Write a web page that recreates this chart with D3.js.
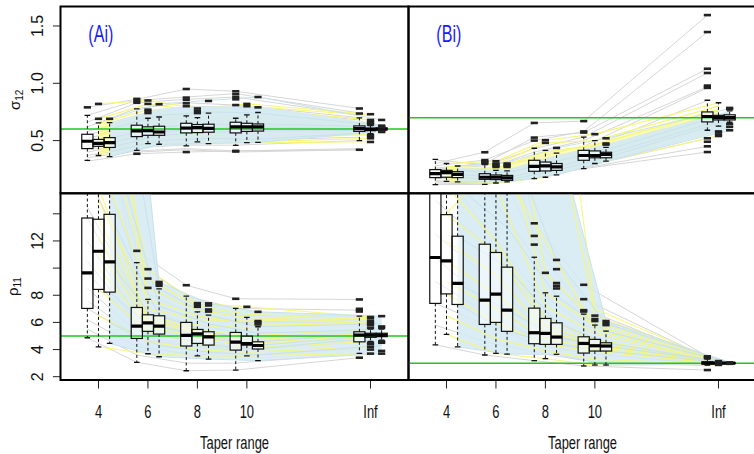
<!DOCTYPE html>
<html><head><meta charset="utf-8">
<script src="https://cdn.jsdelivr.net/npm/d3@7"></script>
<style>body{margin:0;background:#fff}svg{display:block}text{font-family:"Liberation Sans",Arial,Helvetica,sans-serif}</style>
</head><body><svg id="c" width="754" height="454"></svg>
<script>
// ---------- data ----------
const tapers = ["4","6","8","10","Inf"];
const tapPos = [1,2,3,4,6.5];
const methodOffset = [-0.225, 0, 0.225];

// box stats [lo whisker, q1, median, q3, hi whisker] per taper group, per method
const sigmaA_box = [
 [[0.328,0.43,0.494,0.555,0.72],[0.37,0.45,0.476,0.51,0.654],[0.36,0.44,0.482,0.526,0.657]],
 [[0.415,0.535,0.584,0.634,0.776],[0.474,0.546,0.587,0.62,0.695],[0.468,0.546,0.575,0.625,0.706]],
 [[0.453,0.567,0.61,0.651,0.715],[0.488,0.57,0.614,0.64,0.70],[0.474,0.573,0.607,0.643,0.74]],
 [[0.459,0.567,0.62,0.66,0.695],[0.482,0.58,0.62,0.651,0.724],[0.485,0.583,0.62,0.645,0.745]],
 [[0.50,0.58,0.605,0.628,0.698],[0.56,0.59,0.596,0.61,0.63],[0.585,0.595,0.60,0.61,0.62]]
];
const sigmaA_out = [
 [[0.79],[0.69,0.82],[0.69]],
 [[0.385,0.83,0.846,0.864],[0.74,0.756,0.77,0.82,0.85],[0.817]],
 [[0.40,0.80,0.825,0.855,0.875,0.95],[0.74,0.76,0.78],[0.846]],
 [[0.405,0.41,0.81,0.86,0.88,0.905,0.93],[0.80,0.82],[0.79,0.88]],
 [[0.42,0.736,0.78],[0.488,0.52,0.53,0.545,0.55,0.64,0.65,0.66,0.67,0.68,0.73],[0.575,0.58,0.585,0.615,0.62,0.625,0.63,0.68]]
];
const sigmaA_grey = [
 [0.79,0.86,0.95,0.93,0.78],[0.72,0.85,0.88,0.91,0.74],[0.66,0.83,0.86,0.88,0.72],
 [0.62,0.78,0.83,0.81,0.70],[0.58,0.70,0.80,0.79,0.68],[0.55,0.66,0.72,0.70,0.65],
 [0.52,0.62,0.66,0.66,0.63],[0.49,0.58,0.61,0.62,0.61],[0.46,0.55,0.58,0.59,0.59],
 [0.43,0.53,0.56,0.57,0.57],[0.40,0.48,0.50,0.50,0.53],[0.37,0.44,0.46,0.46,0.50],
 [0.35,0.41,0.43,0.41,0.43],[0.32,0.385,0.40,0.41,0.42],[0.44,0.40,0.42,0.40,0.42]
];
const sigmaA_yellow = [
 [0.82,0.85,0.78,0.82,0.73],[0.69,0.82,0.76,0.80,0.72],[0.65,0.77,0.74,0.78,0.68],
 [0.60,0.74,0.72,0.72,0.66],[0.55,0.70,0.68,0.70,0.64],[0.51,0.62,0.64,0.65,0.61],
 [0.48,0.59,0.61,0.62,0.60],[0.45,0.55,0.57,0.58,0.58],[0.42,0.52,0.54,0.53,0.55],
 [0.40,0.49,0.50,0.49,0.52],[0.37,0.47,0.49,0.48,0.49]
];
const sigmaA_yBandLo = [0.38,0.47,0.49,0.49,0.55];
const sigmaA_yBandHi = [0.65,0.74,0.72,0.72,0.62];
const sigmaA_blue = [
 [0.69,0.82,0.85,0.88,0.68],[0.60,0.72,0.75,0.74,0.63],[0.52,0.62,0.64,0.645,0.62],
 [0.48,0.575,0.607,0.62,0.60],[0.44,0.545,0.573,0.583,0.59],[0.40,0.50,0.52,0.51,0.58],
 [0.36,0.468,0.474,0.485,0.58]
];
const sigmaA_bandLo = [0.36,0.45,0.47,0.48,0.58];
const sigmaA_bandHi = [0.66,0.78,0.80,0.80,0.64];

const sigmaB_box = [
 [[0.115,0.177,0.211,0.247,0.336],[0.144,0.18,0.22,0.24,0.30],[0.14,0.177,0.205,0.229,0.278]],
 [[0.118,0.162,0.18,0.211,0.29],[0.13,0.16,0.18,0.20,0.24],[0.14,0.153,0.175,0.196,0.235]],
 [[0.168,0.232,0.275,0.328,0.433],[0.18,0.235,0.28,0.313,0.415],[0.20,0.24,0.27,0.30,0.39]],
 [[0.255,0.328,0.37,0.415,0.53],[0.30,0.35,0.37,0.41,0.50],[0.32,0.35,0.38,0.398,0.44]],
 [[0.59,0.663,0.71,0.75,0.852],[0.626,0.68,0.70,0.72,0.83],[0.66,0.68,0.70,0.725,0.76]]
];
const sigmaB_out = [
 [[],[],[]],
 [[0.30,0.31,0.32,0.33,0.398],[0.27,0.28,0.29,0.30,0.32],[0.27,0.28,0.29,0.30]],
 [[0.50,0.526,0.654],[0.48,0.503],[0.436]],
 [[0.57,0.58,0.67],[0.556],[0.465,0.475,0.52]],
 [[0.40,0.45,0.49,0.52,0.96,0.97,0.98,1.09,1.127,1.447,1.595],[0.54,0.55,0.57,0.58],[0.59,0.62,0.645,0.775,0.785]]
];
const sigmaB_grey = [
 [0.30,0.40,0.654,0.67,1.595],[0.28,0.33,0.50,0.58,1.447],[0.26,0.30,0.53,0.57,1.127],
 [0.25,0.28,0.43,0.53,1.09],[0.24,0.25,0.40,0.50,0.97],[0.22,0.22,0.35,0.45,0.96],
 [0.33,0.29,0.33,0.42,0.85],[0.21,0.18,0.28,0.37,0.75],[0.19,0.17,0.25,0.34,0.71],
 [0.17,0.16,0.23,0.33,0.66],[0.15,0.14,0.20,0.30,0.59],[0.13,0.12,0.18,0.27,0.52],
 [0.115,0.118,0.17,0.26,0.45],[0.14,0.13,0.19,0.255,0.40]
];
const sigmaB_yellow = [
 [0.30,0.32,0.503,0.556,0.83],[0.27,0.29,0.48,0.50,0.80],[0.25,0.26,0.40,0.46,0.77],
 [0.24,0.22,0.33,0.42,0.74],[0.22,0.19,0.29,0.38,0.71],[0.20,0.17,0.26,0.36,0.69],
 [0.18,0.16,0.23,0.33,0.65],[0.16,0.14,0.20,0.31,0.58],[0.144,0.13,0.18,0.30,0.54]
];
const sigmaB_yBandLo = [0.16,0.15,0.20,0.31,0.62];
const sigmaB_yBandHi = [0.27,0.27,0.40,0.48,0.78];
const sigmaB_blue = [
 [0.278,0.31,0.436,0.52,0.78],[0.24,0.22,0.32,0.42,0.74],[0.205,0.175,0.27,0.38,0.70],
 [0.18,0.155,0.24,0.35,0.68],[0.14,0.14,0.20,0.32,0.59]
];
const sigmaB_bandLo = [0.14,0.14,0.20,0.31,0.60];
const sigmaB_bandHi = [0.26,0.25,0.37,0.47,0.76];

const rhoA_box = [
 [[4.87,7.03,9.65,13.69,40],[4.2,8.43,11.24,13.6,40],[4.45,8.23,10.46,13.96,40]],
 [[3.06,4.82,5.73,7.1,10.4],[3.69,5.34,5.97,6.56,7.69],[3.47,5.14,5.73,6.49,8.47]],
 [[2.44,4.26,5.04,6.0,7.93],[3.54,4.45,5.16,5.48,6.78],[3.3,4.33,4.94,5.31,6.54]],
 [[2.49,3.96,4.55,5.26,7.03],[3.54,4.33,4.43,4.99,6.37],[3.18,4.04,4.3,4.57,5.68]],
 [[3.72,4.57,5.07,5.31,6.46],[4.6,4.9,5.07,5.2,5.5],[4.7,4.95,5.07,5.2,5.5]]
];
const rhoA_out = [
 [[],[],[]],
 [[11.27],[8.54,9.23,9.92],[8.7,8.85,8.98]],
 [[8.74],[7.15,7.3,7.42],[6.8,6.95,7.25,7.4]],
 [[7.74],[7.15],[5.85,6.0,6.1,6.78]],
 [[3.4,6.8,6.9,7.0,7.69],[3.7,4.0,4.2,4.4,4.5,5.6,5.8,5.9,6.0,6.1,6.3,6.4],[3.7,3.9,4.5,4.6,5.6,5.7,6.46]]
];
const rhoA_grey = [
 [25,11.27,8.74,7.74,7.69],[20,10.4,7.93,7.03,6.9],[17,9.0,7.2,6.5,6.46],
 [14.5,7.8,6.5,6.0,6.0],[13.69,7.1,6.0,5.26,5.31],[12,6.5,5.6,5.0,5.2],
 [10.5,6.0,5.2,4.7,5.1],[9.65,5.73,5.04,4.55,5.07],[8.5,5.3,4.7,4.2,4.9],
 [7.6,5.0,4.4,4.0,4.7],[7.03,4.82,4.26,3.96,4.57],[6.2,4.2,3.7,3.5,4.1],
 [5.5,3.6,3.0,3.0,3.72],[4.87,3.06,2.44,2.49,3.4],[30,8.5,6.8,6.0,6.2]
];
const rhoA_yellow = [
 [26,9.92,7.42,7.15,6.4],[22,9.23,7.2,6.6,6.2],[18,8.54,6.9,6.37,6.0],
 [15,7.69,6.5,5.9,5.8],[13.6,6.56,5.48,4.99,5.5],[12.3,6.2,5.3,4.7,5.2],
 [11.24,5.97,5.16,4.43,5.07],[10,5.7,4.9,4.3,4.95],[8.43,5.34,4.45,4.1,4.6],
 [6.5,4.6,4.0,3.8,4.2],[4.2,3.69,3.54,3.54,3.7],[35,7.0,6.2,6.1,6.3],[16,6.0,5.8,5.6,6.1]
];
const rhoA_blue = [
 [45,8.98,7.4,6.78,6.46],[30,8.47,6.54,5.68,5.9],[20,7.2,5.9,5.2,5.5],
 [13.96,6.49,5.31,4.57,5.2],[10.46,5.73,4.94,4.3,5.07],[8.23,5.14,4.33,4.04,4.95],
 [6.0,4.3,3.8,3.6,4.3],[4.45,3.47,3.3,3.18,3.7]
];
const rhoA_bandLo = [4.45,3.47,3.3,3.18,3.7];
const rhoA_bandHi = [45,8.98,7.4,6.78,6.46];

const rhoB_box = [
 [[4.35,7.4,10.78,25,50],[5.12,8.1,10.53,13.94,50],[4.2,7.32,8.87,12.35,50]],
 [[3.6,5.85,7.64,11.76,50],[3.72,6.0,8.08,11.15,50],[3.67,5.34,6.9,10.07,50]],
 [[3.18,4.43,5.24,7.05,10.8],[3.33,4.38,5.19,6.29,8.18],[3.65,4.38,4.92,5.97,7.93]],
 [[2.79,3.74,4.45,4.94,6.61],[2.86,3.89,4.28,4.75,5.8],[2.86,3.89,4.26,4.5,5.36]],
 [[2.85,2.93,3.0,3.1,3.3],[2.88,2.95,3.0,3.05,3.12],[2.93,2.97,3.0,3.03,3.07]]
];
const rhoB_out = [
 [[],[],[]],
 [[],[],[]],
 [[11.73,12.37,13.3],[9.65],[8.5,8.7,8.9,9.92,10.6]],
 [[6.8,6.9,7.71,8.77],[6.1,6.25,6.5],[5.8,5.95,6.1]],
 [[2.49,3.37,3.45,3.5],[2.87,2.9,3.1,3.15],[2.95,3.05]]
];
const rhoB_grey = [
 [45,30,13.3,8.77,3.5],[35,25,12.37,7.71,3.4],[28,20,11.73,7.0,3.37],
 [22,16,10.8,6.61,3.2],[18,13,8.5,5.8,3.1],[15,11.76,7.05,4.94,3.1],
 [12.5,9.5,6.0,4.7,3.0],[10.78,7.64,5.24,4.45,3.0],[9.0,6.8,4.9,4.1,2.95],
 [7.4,5.85,4.43,3.74,2.93],[5.8,4.6,3.8,3.2,2.8],[4.35,3.6,3.18,2.79,2.49]
];
const rhoB_yellow = [
 [50,40,25,6.5,3.15],[40,30,9.65,6.1,3.1],[30,22,8.18,5.8,3.1],
 [22,16,7.2,5.2,3.05],[16,12,6.29,4.75,3.05],[13.94,11.15,5.8,4.5,3.0],
 [12,9.5,5.4,4.35,3.0],[10.53,8.08,5.19,4.28,3.0],[9.0,7.0,4.8,4.1,2.95],
 [8.1,6.0,4.38,3.89,2.95],[6.5,4.8,3.9,3.3,2.9],[5.12,3.72,3.33,2.86,2.87],
 [60,45,35,7.0,3.1],[14,18,12,5.5,3.0]
];
const rhoB_blue = [
 [40,35,20,6.1,3.05],[25,20,10.6,5.9,3.05],[16,13,7.93,5.36,3.02],
 [12.35,10.07,5.97,4.5,3.0],[8.87,6.9,4.92,4.26,3.0],[7.32,5.34,4.38,3.89,2.98],
 [4.2,3.67,3.65,2.86,2.95]
];
const rhoB_bandLo = [4.2,3.67,3.65,2.86,2.95];
const rhoB_bandHi = [45,40,20,6.1,3.05];

const trueValues = {sigmaA:0.6, sigmaB:0.7, rhoA:5, rhoB:3};
const sigmaTicks = [0.5,1.0,1.5], sigmaTickLabels = ["0.5","1.0","1.5"];
const rhoTicks = [2,4,6,8,10,12,14], rhoTickLabels = ["2","4","6","8","","12",""];

// ---------- layout ----------
const svg = d3.select("#c");
const L = 60.5, M = 408.5, R = 756.5, T = 6.5, H = 193.3, B = 380;
const xDomain = [0.232, 7.268];
const HW = 5.6;
const YELLOW = "#f6f67a", GREY = "#d6d6d6", BLUE_FILL = "#d5eaf2", BLUE_LINE = "#c8e2ec";

function drawPanel(cfg, id){
  const x = d3.scaleLinear().domain(xDomain).range([cfg.x0, cfg.x1]);
  const y = d3.scaleLinear().domain(cfg.yDomain).range([cfg.y1, cfg.y0]);
  svg.append("clipPath").attr("id","clip"+id).append("rect")
     .attr("x",cfg.x0).attr("y",cfg.y0).attr("width",cfg.x1-cfg.x0).attr("height",cfg.y1-cfg.y0);
  const g = svg.append("g").attr("clip-path","url(#clip"+id+")");
  const lineFor = m => d3.line().x((v,i)=>x(tapPos[i]+methodOffset[m])).y(v=>y(v));
  const bandFor = (m, lo, hi) => d3.area().x((v,i)=>x(tapPos[i]+methodOffset[m]))
     .y0((v,i)=>y(lo[i])).y1((v,i)=>y(hi[i]))(lo);
  g.selectAll(null).data(cfg.grey).join("path").attr("d",lineFor(0))
    .attr("fill","none").attr("stroke",GREY).attr("stroke-width",1);
  if(cfg.yBandLo) g.append("path").attr("d",bandFor(1,cfg.yBandLo,cfg.yBandHi))
    .attr("fill","#fbfb9c").attr("opacity",0.75);
  const drawYellow = () => g.selectAll(null).data(cfg.yellow).join("path").attr("d",lineFor(1))
    .attr("fill","none").attr("stroke",YELLOW).attr("stroke-width",1.2).attr("opacity",cfg.yellowOpacity);
  if(!cfg.yellowOnTop) drawYellow();
  g.append("path").attr("d",bandFor(2,cfg.bandLo,cfg.bandHi)).attr("fill",BLUE_FILL).attr("opacity",cfg.bandOpacity);
  if(cfg.yellowOnTop) drawYellow();
  g.selectAll(null).data(cfg.blue).join("path").attr("d",lineFor(2))
    .attr("fill","none").attr("stroke",BLUE_LINE).attr("stroke-width",1);

  // box fills
  const boxes = [];
  cfg.box.forEach((grp,i)=>grp.forEach((s,m)=>boxes.push({cx:x(tapPos[i]+methodOffset[m]), s, out:cfg.out[i][m]})));
  g.selectAll(null).data(boxes).join("rect")
    .attr("x",d=>d.cx-HW).attr("width",2*HW)
    .attr("y",d=>y(d.s[3])).attr("height",d=>y(d.s[1])-y(d.s[3]))
    .attr("fill","#fff").attr("fill-opacity",0.5);
  // true value
  g.append("line").attr("x1",cfg.x0).attr("x2",cfg.x1)
    .attr("y1",y(cfg.truth)).attr("y2",y(cfg.truth))
    .attr("stroke","#1ec81e").attr("stroke-width",1.5);
  // whiskers, boxes, medians, outliers
  boxes.forEach(d=>{
    const s=d.s;
    [[s[3],s[4]],[s[1],s[0]]].forEach(([a,b])=>{
      g.append("line").attr("x1",d.cx).attr("x2",d.cx).attr("y1",y(a)).attr("y2",y(b))
       .attr("stroke","#111").attr("stroke-width",1).attr("stroke-dasharray","3,2.5");
      g.append("line").attr("x1",d.cx-2.8).attr("x2",d.cx+2.8).attr("y1",y(b)).attr("y2",y(b))
       .attr("stroke","#111").attr("stroke-width",1.3);
    });
    g.append("rect").attr("x",d.cx-HW).attr("width",2*HW)
     .attr("y",y(s[3])).attr("height",y(s[1])-y(s[3]))
     .attr("fill","none").attr("stroke","#111").attr("stroke-width",1.2);
    g.append("line").attr("x1",d.cx-HW).attr("x2",d.cx+HW).attr("y1",y(s[2])).attr("y2",y(s[2]))
     .attr("stroke","#000").attr("stroke-width",3.2);
    d.out.forEach(v=>{
      g.append("rect").attr("x",d.cx-3.6).attr("y",y(v)-1.3).attr("width",7.2).attr("height",2.6).attr("fill","#222");
    });
  });
  // panel label
  if(cfg.label){
    svg.append("text").attr("transform",`translate(${cfg.x0+27.8},41.8) scale(0.7,1)`)
      .attr("font-size",23).attr("fill","#1a1aff").text(cfg.label);
  }
  // x axis
  if(cfg.xAxis){
    tapPos.forEach((p,i)=>{
      svg.append("line").attr("x1",x(p)).attr("x2",x(p)).attr("y1",B).attr("y2",B+8.5)
        .attr("stroke","#222").attr("stroke-width",1);
      svg.append("text").attr("transform",`translate(${x(p)},418.3) scale(0.7,1)`)
        .attr("text-anchor","middle").attr("font-size",18.5).attr("fill","#111").text(tapers[i]);
    });
    svg.append("text").attr("transform",`translate(${(cfg.x0+cfg.x1)/2},449) scale(0.7,1)`)
      .attr("text-anchor","middle").attr("font-size",18.5).attr("fill","#111").text("Taper range");
  }
  // y axis
  if(cfg.yTicks){
    cfg.yTicks.forEach((t,i)=>{
      svg.append("line").attr("x1",L-7.6).attr("x2",L).attr("y1",y(t)).attr("y2",y(t))
        .attr("stroke","#222").attr("stroke-width",1);
      if(cfg.yTickLabels[i]) svg.append("text").attr("transform",`translate(43.3,${y(t)}) rotate(-90)`)
        .attr("text-anchor","middle").attr("font-size",16).attr("fill","#111").text(cfg.yTickLabels[i]);
    });
    const tt = svg.append("text").attr("transform",`translate(${cfg.titleX},${(cfg.y0+cfg.y1)/2}) rotate(-90)`)
      .attr("text-anchor","middle").attr("font-size",15).attr("fill","#111");
    tt.append("tspan").text(cfg.title[0]);
    tt.append("tspan").attr("font-size",10).attr("dy",3).text(cfg.title[1]);
  }
  // border
  svg.append("rect").attr("x",cfg.x0).attr("y",cfg.y0).attr("width",cfg.x1-cfg.x0).attr("height",cfg.y1-cfg.y0)
    .attr("fill","none").attr("stroke","#000").attr("stroke-width",2);
}

drawPanel({x0:L,x1:M,y0:T,y1:H,yDomain:[0.04,1.67],box:sigmaA_box,out:sigmaA_out,grey:sigmaA_grey,yellow:sigmaA_yellow,yBandLo:sigmaA_yBandLo,yBandHi:sigmaA_yBandHi,blue:sigmaA_blue,bandLo:sigmaA_bandLo,bandHi:sigmaA_bandHi,bandOpacity:0.95,yellowOpacity:1,truth:trueValues.sigmaA,label:"(Ai)",yTicks:sigmaTicks,yTickLabels:sigmaTickLabels,title:["σ","12"],titleX:19.5},"a");
drawPanel({x0:M,x1:R,y0:T,y1:H,yDomain:[0.04,1.67],box:sigmaB_box,out:sigmaB_out,grey:sigmaB_grey,yellow:sigmaB_yellow,yBandLo:sigmaB_yBandLo,yBandHi:sigmaB_yBandHi,blue:sigmaB_blue,bandLo:sigmaB_bandLo,bandHi:sigmaB_bandHi,bandOpacity:0.95,yellowOpacity:1,truth:trueValues.sigmaB,label:"(Bi)"},"b");
drawPanel({x0:L,x1:M,y0:H,y1:B,yDomain:[1.757,15.51],box:rhoA_box,out:rhoA_out,grey:rhoA_grey,yellow:rhoA_yellow,blue:rhoA_blue,bandLo:rhoA_bandLo,bandHi:rhoA_bandHi,bandOpacity:0.85,yellowOnTop:true,yellowOpacity:0.85,truth:trueValues.rhoA,xAxis:true,yTicks:rhoTicks,yTickLabels:rhoTickLabels,title:["ρ","11"],titleX:17.5},"c");
drawPanel({x0:M,x1:R,y0:H,y1:B,yDomain:[1.757,15.51],box:rhoB_box,out:rhoB_out,grey:rhoB_grey,yellow:rhoB_yellow,blue:rhoB_blue,bandLo:rhoB_bandLo,bandHi:rhoB_bandHi,bandOpacity:0.85,yellowOnTop:true,yellowOpacity:0.85,truth:trueValues.rhoB,xAxis:true},"d");
</script></body></html>
